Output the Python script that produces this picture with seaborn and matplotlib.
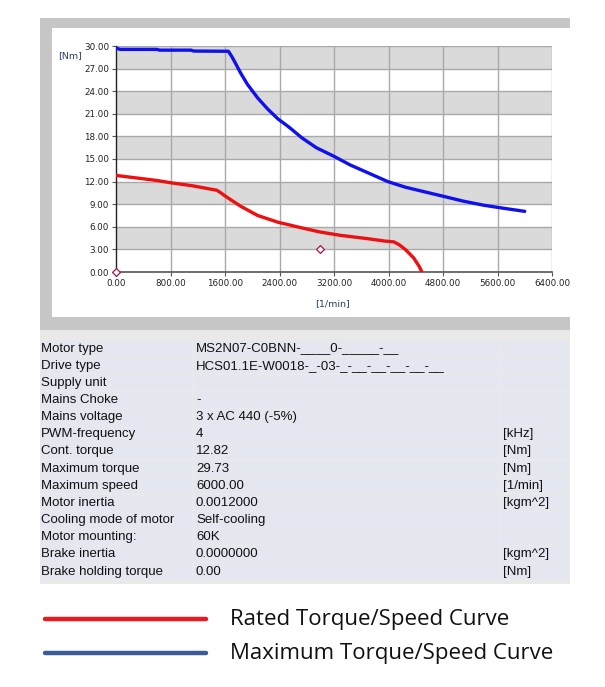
import seaborn as sns
import matplotlib
import matplotlib.pyplot as plt
from matplotlib.patches import Rectangle
matplotlib.use('Agg')

# Maximum torque/speed curve (blue)
blue_rpm = [0, 60, 600, 640, 1100, 1140, 1650, 1700, 1760, 1830, 1930, 2080, 2230, 2380,
            2530, 2730, 2940, 3190, 3440, 3740, 3990, 4250, 4550, 4800, 5100, 5400, 5660, 6000]
blue_torque = [29.73, 29.55, 29.55, 29.45, 29.45, 29.33, 29.3, 28.6, 27.6, 26.4, 24.9, 23.1, 21.6, 20.3,
               19.3, 17.8, 16.5, 15.4, 14.2, 13.0, 12.0, 11.25, 10.6, 10.06, 9.4, 8.86, 8.5, 8.05]

# Rated torque/speed curve (red)
red_rpm = [0, 600, 800, 1120, 1420, 1480, 1540, 1600, 1700, 1830, 2080, 2380, 2730, 2990, 3290,
           3690, 3950, 4080, 4160, 4250, 4370, 4450, 4490]
red_torque = [12.82, 12.15, 11.85, 11.45, 10.95, 10.85, 10.5, 10.1, 9.5, 8.73, 7.5, 6.6, 5.85, 5.32, 4.87,
              4.43, 4.1, 4.0, 3.6, 2.97, 1.86, 0.75, 0.0]

# operating points
point_rpm = [0, 3000]
point_torque = [0, 3.0]

x_ticks = [0, 800, 1600, 2400, 3200, 4000, 4800, 5600, 6400]
y_ticks = [0, 3, 6, 9, 12, 15, 18, 21, 24, 27, 30]

row_labels = ["Motor type", "Drive type", "Supply unit", "Mains Choke", "Mains voltage",
              "PWM-frequency", "Cont. torque", "Maximum torque", "Maximum speed", "Motor inertia",
              "Cooling mode of motor", "Motor mounting:", "Brake inertia", "Brake holding torque"]
row_values = ["MS2N07-C0BNN-____0-_____-__", "HCS01.1E-W0018-_-03-_-__-__-__-__-__",
              "", "-", "3 x AC 440 (-5%)", "4", "12.82", "29.73", "6000.00", "0.0012000",
              "Self-cooling", "60K", "0.0000000", "0.00"]
row_units = ["", "", "", "", "", "[kHz]", "[Nm]", "[Nm]", "[1/min]", "[kgm^2]",
             "", "", "[kgm^2]", "[Nm]"]

legend_labels = ["Rated Torque/Speed Curve", "Maximum Torque/Speed Curve"]

W, H = 605, 687
sns.set_style("white")
plt.rcParams['font.family'] = ['DejaVu Sans']

fig = plt.figure(figsize=(W / 100, H / 100), dpi=100)


def fx(x):
    return x / W


def fy(y):
    return 1 - y / H


def rect(x0, y0, x1, y1, color, z=-5):
    fig.add_artist(Rectangle((fx(x0), fy(y1)), fx(x1) - fx(x0), (y1 - y0) / H,
                             transform=fig.transFigure, facecolor=color,
                             edgecolor='none', linewidth=0, zorder=z))


# screenshot frame
rect(40, 18, 570, 330, '#c6c6c6')
rect(52, 28, 570, 317, 'white', z=-4)

# plot area
ax = fig.add_axes([fx(116), fy(272), 436 / W, 226 / H])
ax.set_xlim(0, 6400)
ax.set_ylim(0, 30)
for lo in [3, 9, 15, 21, 27]:
    ax.axhspan(lo, lo + 3, color='#dadada', zorder=0, lw=0)
for y in y_ticks[1:]:
    ax.axhline(y, color='#a9a9a9', lw=1, zorder=1)
for x in x_ticks[1:]:
    ax.axvline(x, color='#a9a9a9', lw=1, zorder=1)

sns.lineplot(x=blue_rpm, y=blue_torque, sort=False, estimator=None, color='#1010ee',
             lw=2.4, ax=ax, zorder=3)
sns.lineplot(x=red_rpm, y=red_torque, sort=False, estimator=None, color='#ee1010',
             lw=2.4, ax=ax, zorder=3)
sns.scatterplot(x=point_rpm, y=point_torque, marker='D', s=16, facecolor='white',
                edgecolor='#b0104a', linewidth=0.9, ax=ax, zorder=4, clip_on=False)

ax.set_xticks(x_ticks)
ax.set_yticks(y_ticks)
ax.set_xticklabels([f"{v:.2f}" for v in x_ticks])
ax.set_yticklabels([f"{v:.2f}" for v in y_ticks])
ax.tick_params(axis='both', labelsize=6.3, length=3, width=0.8, color='#555555',
               labelcolor='#222222', pad=2, direction='out', bottom=True, left=True)
for side in ['top', 'right']:
    ax.spines[side].set_visible(False)
ax.spines['left'].set_color('#222222')
ax.spines['bottom'].set_color('#555555')
ax.spines['left'].set_linewidth(1)
ax.spines['bottom'].set_linewidth(1.2)
ax.set_xlabel('')
ax.set_ylabel('')

fig.text(fx(70), fy(56), '[Nm]', fontsize=6.8, color='#2c3e66', ha='center', va='center')
fig.text(fx(333), fy(304), '[1/min]', fontsize=6.8, color='#2c3e66', ha='center', va='center')

# parameter table
rect(40, 330, 570, 584, '#e9e9e9')
row_h = 17.15
top = 340
cols = [(40, 193), (193, 501), (501, 569)]
for i in range(len(row_labels)):
    y0 = top + i * row_h
    for c0, c1 in cols:
        rect(c0 + 1, y0 + 0.5, c1 - 1, y0 + row_h - 1, '#e4e7ef', z=-3)
    yc = y0 + row_h / 2
    for xt, txt in [(41, row_labels[i]), (196, row_values[i]), (503, row_units[i])]:
        fig.text(fx(xt), fy(yc), txt, fontsize=9.5, family='Liberation Sans',
                 color='#111111', va='center', ha='left')

# legend below
for yc, col, lab in [(619, '#e8191f', legend_labels[0]), (653, '#3a5a98', legend_labels[1])]:
    fig.add_artist(plt.Line2D([fx(45), fx(206)], [fy(yc), fy(yc)], color=col, lw=3.2,
                              transform=fig.transFigure))
    fig.text(fx(230), fy(yc), lab, fontsize=16, family='Open Sans', color='#111111',
             va='center', ha='left')

fig.savefig('out.png', dpi=100)
plt.close()
